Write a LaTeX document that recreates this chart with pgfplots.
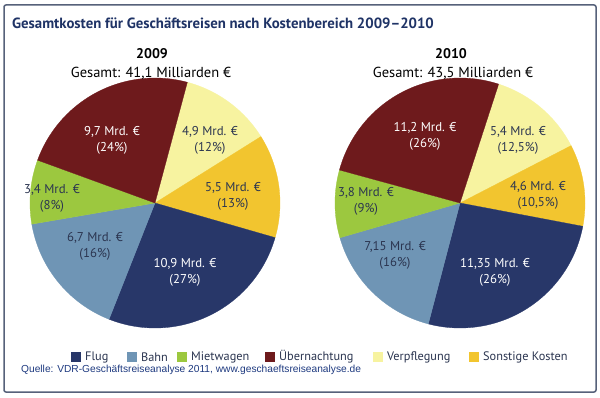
\documentclass[border=0pt]{standalone}
\usepackage{pgfplots}
\pgfplotsset{compat=1.18}
\usepgfplotslibrary{polar}
\usepackage{fontspec}
\setmainfont{PT Sans}
\newfontfamily\arialf{Liberation Sans}
\definecolor{cFlug}{HTML}{283769}
\definecolor{cBahn}{HTML}{6F95B5}
\definecolor{cMiet}{HTML}{9CC83F}
\definecolor{cUeber}{HTML}{6E1A1C}
\definecolor{cVer}{HTML}{F7F3A0}
\definecolor{cSon}{HTML}{F2C52F}
\definecolor{cTitle}{HTML}{1F3366}
\definecolor{cTxt}{HTML}{2B3550}
\definecolor{cFrame}{HTML}{56617A}
\definecolor{cSrc}{HTML}{1E3A80}
% 2009 values: Verpflegung, Sonstige, Flug, Bahn, Mietwagen, Uebernachtung (total 41.1)
\pgfmathsetmacro\Aa{75}
\pgfmathsetmacro\Ab{\Aa-4.9/41.1*360}
\pgfmathsetmacro\Ac{\Ab-5.5/41.1*360}
\pgfmathsetmacro\Ad{\Ac-10.9/41.1*360}
\pgfmathsetmacro\Ae{\Ad-6.7/41.1*360}
\pgfmathsetmacro\Af{\Ae-3.4/41.1*360}
\pgfmathsetmacro\Ag{\Af-9.7/41.1*360}
% 2010 values (total 43.5)
\pgfmathsetmacro\Ba{72}
\pgfmathsetmacro\Bb{\Ba-5.4/43.5*360}
\pgfmathsetmacro\Bc{\Bb-4.6/43.5*360}
\pgfmathsetmacro\Bd{\Bc-11.35/43.5*360}
\pgfmathsetmacro\Be{\Bd-7.15/43.5*360}
\pgfmathsetmacro\Bf{\Be-3.8/43.5*360}
\pgfmathsetmacro\Bg{\Bf-11.2/43.5*360}
\pgfplotsset{pie/.style={hide axis, clip=false, scale only axis, width=250pt, height=250pt, ymin=0, ymax=1, anchor=origin},
 sl/.style={fill=#1, draw=#1, line width=0.3pt, samples=80, mark=none}}
\begin{document}
\begin{tikzpicture}[x=1pt,y=1pt]
\path[use as bounding box] (0,0) rectangle (600,397);
\fill[white] (0,0) rectangle (600,397);
\draw[cFrame, line width=1.5pt, rounded corners=2pt] (4,5) rectangle (596,392);
\begin{polaraxis}[pie, at={(155pt,194pt)}]
\addplot[sl=cVer, domain=\Ab:\Aa] {1} -- (0,0) -- cycle;
\addplot[sl=cSon, domain=\Ac:\Ab] {1} -- (0,0) -- cycle;
\addplot[sl=cFlug, domain=\Ad:\Ac] {1} -- (0,0) -- cycle;
\addplot[sl=cBahn, domain=\Ae:\Ad] {1} -- (0,0) -- cycle;
\addplot[sl=cMiet, domain=\Af:\Ae] {1} -- (0,0) -- cycle;
\addplot[sl=cUeber, domain=\Ag:\Af] {1} -- (0,0) -- cycle;
\end{polaraxis}
\begin{polaraxis}[pie, at={(460pt,194pt)}]
\addplot[sl=cVer, domain=\Bb:\Ba] {1} -- (0,0) -- cycle;
\addplot[sl=cSon, domain=\Bc:\Bb] {1} -- (0,0) -- cycle;
\addplot[sl=cFlug, domain=\Bd:\Bc] {1} -- (0,0) -- cycle;
\addplot[sl=cBahn, domain=\Be:\Bd] {1} -- (0,0) -- cycle;
\addplot[sl=cMiet, domain=\Bf:\Be] {1} -- (0,0) -- cycle;
\addplot[sl=cUeber, domain=\Bg:\Bf] {1} -- (0,0) -- cycle;
\end{polaraxis}
% title
\node[anchor=west, text=cTitle, font=\fontsize{14.8}{16}\selectfont\bfseries, inner sep=0pt] at (12,374) {Gesamtkosten für Geschäftsreisen nach Kostenbereich 2009–2010};
\node[text=black, font=\fontsize{14}{15}\selectfont\bfseries, inner sep=0pt] at (152,343) {2009};
\node[text=black, font=\fontsize{14.5}{15}\selectfont, inner sep=0pt] at (151,324) {Gesamt: 41,1 Milliarden €};
\node[text=black, font=\fontsize{14}{15}\selectfont\bfseries, inner sep=0pt] at (451,343) {2010};
\node[text=black, font=\fontsize{14.5}{15}\selectfont, inner sep=0pt] at (453,324) {Gesamt: 43,5 Milliarden €};
% slice labels
\tikzset{lab/.style={align=center, font=\fontsize{12.8}{16}\selectfont, inner sep=0pt, text=cTxt}, labw/.style={lab, text=white}}
\node[labw] at (112,257) {9,7 Mrd. €\\(24\%)};
\node[lab] at (210,257) {4,9 Mrd. €\\(12\%)};
\node[lab] at (233,201) {5,5 Mrd. €\\(13\%)};
\node[lab] at (52,199) {3,4 Mrd. €\\(8\%)};
\node[lab] at (95,151) {6,7 Mrd. €\\(16\%)};
\node[labw] at (185,125) {10,9 Mrd. €\\(27\%)};
\node[labw] at (425,261) {11,2 Mrd. €\\(26\%)};
\node[lab] at (518,257) {5,4 Mrd. €\\(12,5\%)};
\node[lab] at (538,202) {4,6 Mrd. €\\(10,5\%)};
\node[lab] at (366,196) {3,8 Mrd. €\\(9\%)};
\node[lab] at (395,142) {7,15 Mrd. €\\(16\%)};
\node[labw] at (495,125) {11,35 Mrd. €\\(26\%)};
% legend
\tikzset{lt/.style={anchor=west, font=\fontsize{12.3}{14}\selectfont, inner sep=0pt, text=cTxt}}
\foreach \x/\c/\t in {71/cFlug/Flug, 127/cBahn/Bahn, 177/cMiet/Mietwagen, 265/cUeber/Übernachtung, 373/cVer/Verpflegung, 469/cSon/Sonstige Kosten}{
  \fill[\c] (\x,35) rectangle ++(10,10);
  \node[lt] at (\x+14,40) {\t};
}
\node[anchor=west, font=\arialf\fontsize{10.2}{12}\selectfont, text=cSrc, inner sep=0pt] at (21,27) {Quelle: VDR-Geschäftsreiseanalyse 2011, www.geschaeftsreiseanalyse.de};
\end{tikzpicture}
\end{document}
